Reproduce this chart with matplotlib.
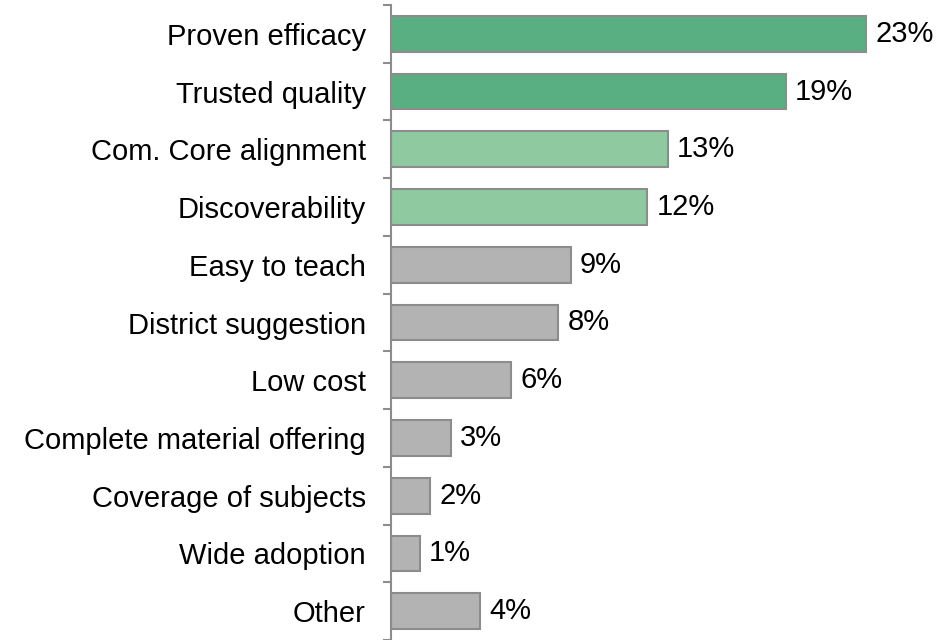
import matplotlib
matplotlib.use('Agg')
import matplotlib.pyplot as plt
import numpy as np

categories = ['Proven efficacy', 'Trusted quality', 'Com. Core alignment', 'Discoverability',
              'Easy to teach', 'District suggestion', 'Low cost', 'Complete material offering',
              'Coverage of subjects', 'Wide adoption', 'Other']
# bar lengths (labels are the rounded shares)
values = [23.0, 19.1, 13.4, 12.4, 8.7, 8.1, 5.8, 2.9, 1.9, 1.4, 4.3]
value_labels = ['23%', '19%', '13%', '12%', '9%', '8%', '6%', '3%', '2%', '1%', '4%']
colors = ['#5aaf82', '#5aaf82', '#8fc9a0', '#8fc9a0'] + ['#b3b3b3'] * 7

plt.rcParams['font.family'] = ['Liberation Sans', 'DejaVu Sans']

fig = plt.figure(figsize=(9.53, 6.4), dpi=100)
ax = fig.add_axes([391 / 953, 0.0, 1 - 391 / 953, 1 - 5 / 640])

y = np.arange(len(categories))
ax.barh(y, values, height=0.62, color=colors, edgecolor='#8c8c8c', linewidth=1.5)

for yi, v, lab in zip(y, values, value_labels):
    ax.text(v + 0.45, yi, lab, va='center', ha='left', fontsize=21)

ax.set_xlim(0, 27.2)
ax.set_ylim(len(categories) - 0.5, -0.5)

ax.set_yticks(y)
ax.set_yticklabels(categories, fontsize=21)
ax.tick_params(axis='y', which='major', length=0, pad=18)
ax.set_yticks(np.arange(-0.5, len(categories), 1), minor=True)
ax.tick_params(axis='y', which='minor', length=6, width=1.5, color='#8c8c8c', direction='out')

ax.set_xticks([])
for s in ['top', 'right', 'bottom']:
    ax.spines[s].set_visible(False)
ax.spines['left'].set_color('#8c8c8c')
ax.spines['left'].set_linewidth(1.5)

fig.savefig('out.png', dpi=100)
